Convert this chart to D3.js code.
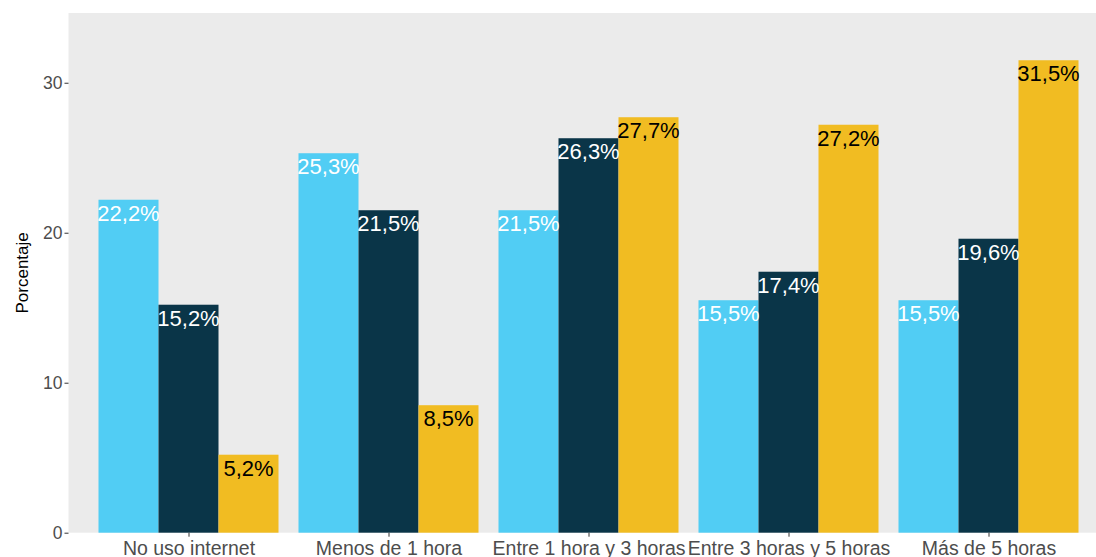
<!DOCTYPE html>
<html>
<head>
<meta charset="utf-8">
<script src="https://cdn.jsdelivr.net/npm/d3@7"></script>
<style>
  body { margin: 0; background: #fff; }
  text { font-family: "Liberation Sans", Arial, Helvetica, sans-serif; }
</style>
</head>
<body>
<div id="content"></div>
<script>
// categories and values
var categories = ["No uso internet", "Menos de 1 hora", "Entre 1 hora y 3 horas", "Entre 3 horas y 5 horas", "Más de 5 horas"];
var series = ["s1", "s2", "s3"];
var s1 = [22.2, 25.3, 21.5, 15.5, 15.5];
var s2 = [15.2, 21.5, 26.3, 17.4, 19.6];
var s3 = [5.2, 8.5, 27.7, 27.2, 31.5];
var yTicks = [0, 10, 20, 30];

var fills = { s1: "#51CDF4", s2: "#0A3548", s3: "#F1BC22" };
var labelColors = { s1: "#ffffff", s2: "#ffffff", s3: "#000000" };

var W = 1096, H = 557;
var margin = { top: 13, left: 68.5 },
    panelW = 1040,
    panelH = 532.7 - 13;

var data = [];
categories.forEach(function(c, i) {
    data.push({ cat: c, key: "s1", value: s1[i] });
    data.push({ cat: c, key: "s2", value: s2[i] });
    data.push({ cat: c, key: "s3", value: s3[i] });
});

var svg = d3.select("#content").append("svg")
    .attr("width", W)
    .attr("height", H);

var g = svg.append("g")
    .attr("transform", "translate(" + margin.left + "," + margin.top + ")");

// ggplot-like discrete scale: 0.6 unit expansion on each side
var x = d3.scalePoint().domain(categories).range([0.6 * panelW / 5.2, panelW - 0.6 * panelW / 5.2]);
var step = panelW / 5.2;
var xInner = d3.scaleBand().domain(series).range([-step * 0.45, step * 0.45]).padding(0);

var y = d3.scaleLinear().domain([0, 31.5 * 1.1]).range([panelH, 0]);

g.append("rect")
    .attr("width", panelW)
    .attr("height", panelH)
    .attr("fill", "#EBEBEB");

g.selectAll(".bar")
    .data(data)
    .enter()
    .append("rect")
    .attr("class", "bar")
    .attr("x", function(d) { return x(d.cat) + xInner(d.key); })
    .attr("width", xInner.bandwidth())
    .attr("y", function(d) { return y(d.value); })
    .attr("height", function(d) { return panelH - y(d.value); })
    .attr("fill", function(d) { return fills[d.key]; });

g.selectAll(".lbl")
    .data(data)
    .enter()
    .append("text")
    .attr("class", "lbl")
    .attr("x", function(d) { return x(d.cat) + xInner(d.key) + xInner.bandwidth() / 2; })
    .attr("y", function(d) { return y(d.value) + 21; })
    .attr("text-anchor", "middle")
    .attr("font-size", "22px")
    .attr("fill", function(d) { return labelColors[d.key]; })
    .text(function(d) { return d.value.toFixed(1).replace(".", ",") + "%"; });

// axes
var yAxis = d3.axisLeft(y).tickValues(yTicks).tickSize(4).tickPadding(2);
var gy = g.append("g").call(yAxis);
gy.select(".domain").remove();
gy.selectAll(".tick line").attr("stroke", "#333333");
gy.selectAll(".tick text").attr("fill", "#4D4D4D").attr("font-size", "17.5px")
    .attr("font-family", "Liberation Sans, Arial, sans-serif");

var xAxis = d3.axisBottom(x).tickSize(4).tickPadding(4);
var gx = g.append("g").attr("transform", "translate(0," + panelH + ")").call(xAxis);
gx.select(".domain").remove();
gx.selectAll(".tick line").attr("stroke", "#333333");
gx.selectAll(".tick text").attr("fill", "#4D4D4D").attr("font-size", "19.5px")
    .attr("font-family", "Liberation Sans, Arial, sans-serif");

svg.append("text")
    .attr("transform", "translate(28," + (margin.top + panelH / 2) + ") rotate(-90)")
    .attr("text-anchor", "middle")
    .attr("font-size", "17px")
    .attr("fill", "#000")
    .text("Porcentaje");
</script>
</body>
</html>
